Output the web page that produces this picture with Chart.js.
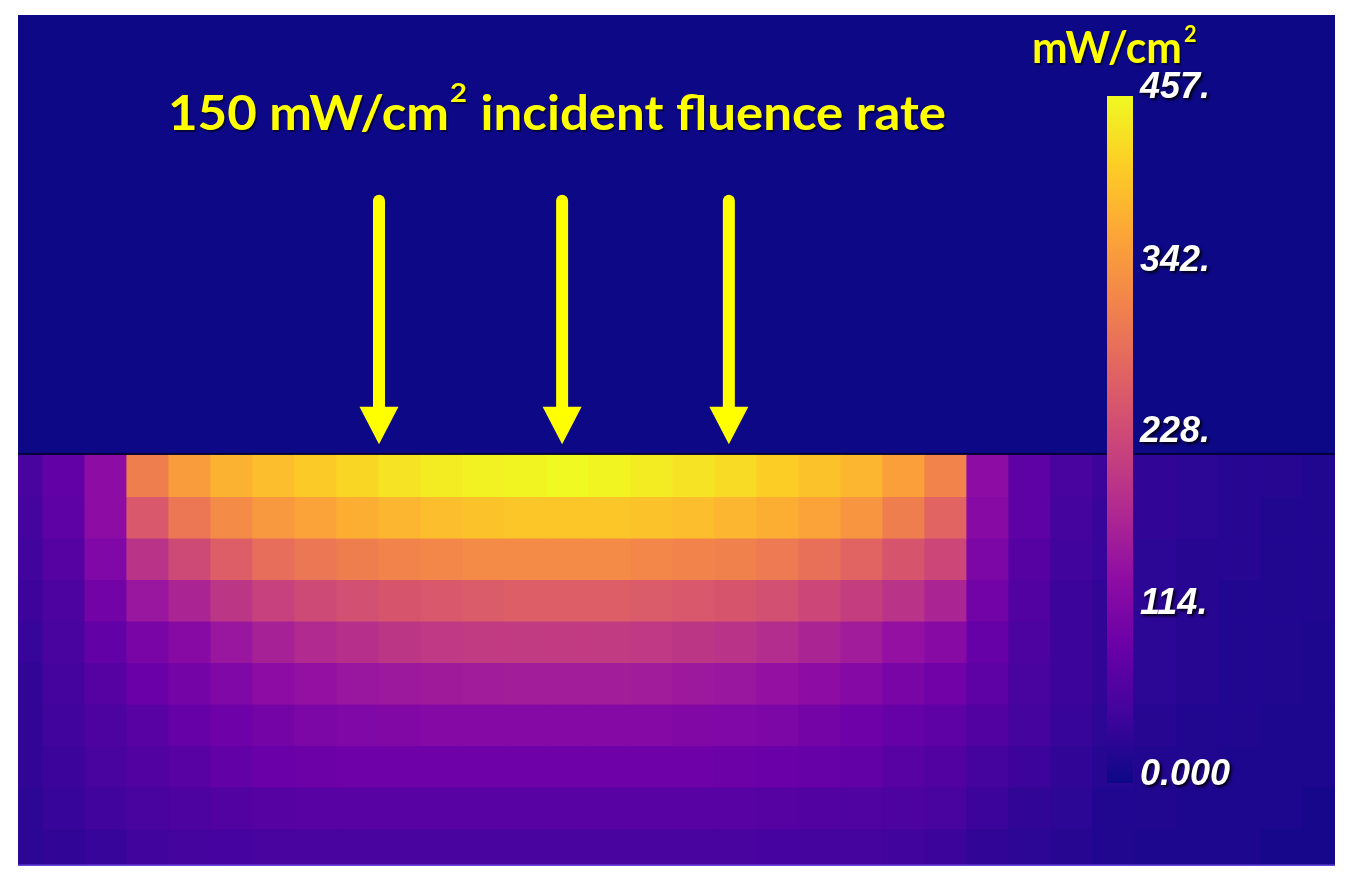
<!DOCTYPE html>
<html>
<head>
<meta charset="utf-8">
<script src="https://cdn.jsdelivr.net/npm/chart.js@4.4.1/dist/chart.umd.min.js"></script>
<style>
html,body{margin:0;padding:0;background:#ffffff;}
#wrap{position:relative;width:1348px;height:886px;overflow:hidden;}
#main{position:absolute;left:0;top:0;}
#cbar{position:absolute;left:1107px;top:0;}
</style>
</head>
<body>
<div id="wrap">
<canvas id="main" width="1348" height="886"></canvas>
<canvas id="cbar" width="232" height="886"></canvas>
</div>
<script>
// ---- data (fluence rate, mW/cm^2) ----
const columns = [0,1,2,3,4,5,6,7,8,9,10,11,12,13,14,15,16,17,18,19,20,21,22,23,24,25,26,27,28,29,30,31];
const depthRows = [0,1,2,3,4,5,6,7,8,9];
const fluenceRow0 = [55, 82, 133, 311, 352, 379, 393, 407, 420, 434, 443, 448, 452, 457, 452, 443, 434, 425, 411, 398, 384, 356, 320, 133, 78, 55, 41, 32, 27, 23, 23, 18];
const fluenceRow1 = [50, 78, 133, 256, 302, 329, 347, 361, 375, 384, 393, 398, 402, 402, 402, 398, 393, 384, 375, 361, 343, 311, 274, 128, 78, 50, 37, 32, 27, 23, 18, 18];
const fluenceRow2 = [46, 69, 119, 197, 233, 265, 288, 302, 311, 320, 324, 329, 329, 329, 329, 324, 320, 315, 306, 292, 274, 251, 229, 114, 69, 46, 37, 27, 23, 23, 18, 18];
const fluenceRow3 = [41, 59, 101, 151, 174, 201, 219, 233, 242, 251, 256, 260, 265, 265, 265, 260, 256, 251, 242, 229, 215, 197, 174, 101, 64, 41, 32, 27, 23, 18, 18, 18];
const fluenceRow4 = [37, 55, 82, 110, 128, 151, 169, 183, 192, 201, 206, 210, 210, 210, 210, 206, 201, 197, 187, 174, 160, 142, 128, 87, 59, 41, 32, 27, 23, 18, 18, 14];
const fluenceRow5 = [32, 50, 69, 91, 105, 119, 133, 142, 151, 155, 158, 160, 162, 162, 162, 160, 155, 151, 142, 133, 123, 110, 100, 78, 55, 41, 32, 27, 23, 18, 18, 14];
const fluenceRow6 = [32, 46, 59, 73, 87, 96, 105, 114, 119, 121, 123, 123, 124, 124, 124, 123, 121, 119, 114, 105, 96, 87, 78, 64, 50, 37, 27, 23, 18, 18, 14, 14];
const fluenceRow7 = [32, 41, 55, 64, 73, 82, 91, 94, 96, 96, 96, 96, 96, 96, 96, 96, 96, 94, 91, 87, 82, 73, 64, 50, 41, 32, 23, 18, 18, 14, 14, 14];
const fluenceRow8 = [27, 37, 46, 55, 59, 66, 69, 71, 73, 73, 73, 73, 73, 73, 73, 73, 73, 71, 69, 66, 62, 59, 55, 41, 32, 27, 18, 18, 14, 14, 14, 9];
const fluenceRow9 = [27, 32, 37, 46, 50, 52, 55, 55, 55, 55, 55, 55, 55, 55, 55, 55, 55, 55, 52, 50, 50, 46, 41, 32, 27, 23, 18, 14, 14, 14, 9, 9];
const fluenceMin = 0;
const fluenceMax = 457;
const colorbarTicks = [0, 114, 228, 342, 457];
const colorbarTickLabels = ['0.000', '114.', '228.', '342.', '457.'];
const titleText = ['150 mW/cm', '2', ' incident fluence rate'];
const unitText = ['mW/cm', '2'];

// ---- annotation geometry (not data) ----
const arrowColumns = [8.5, 12.86, 16.83];
const arrowTopDepth = -6.27, arrowHeadDepth = -1.16, arrowTipDepth = -0.26;

const fluenceRows = [fluenceRow0, fluenceRow1, fluenceRow2, fluenceRow3, fluenceRow4,
                     fluenceRow5, fluenceRow6, fluenceRow7, fluenceRow8, fluenceRow9];

// plasma colormap
const plasmaStops = ['#0d0887','#41049d','#6a00a8','#8f0da4','#b12a90','#cc4778',
                     '#e16462','#f2844b','#fca636','#fcce25','#f0f921'];
function hexRgb(h){ return [parseInt(h.slice(1,3),16), parseInt(h.slice(3,5),16), parseInt(h.slice(5,7),16)]; }
function plasma(t){
  t = Math.max(0, Math.min(1, t));
  const n = plasmaStops.length - 1;
  const f = t * n;
  const i = Math.min(n - 1, Math.floor(f));
  const u = f - i;
  const a = hexRgb(plasmaStops[i]), b = hexRgb(plasmaStops[i + 1]);
  return 'rgb(' + a.map((c, k) => Math.round(c + (b[k] - c) * u)).join(',') + ')';
}

const bgPlugin = {
  id: 'bluebox',
  beforeDraw(chart){
    const {ctx, chartArea: ca} = chart;
    ctx.save();
    ctx.fillStyle = '#0c0886';
    ctx.fillRect(ca.left, ca.top, ca.right - ca.left, ca.bottom - ca.top);
    ctx.restore();
  },
  afterDatasetsDraw(chart){
    const {ctx, chartArea: ca} = chart;
    const xs = chart.scales.x, ys = chart.scales.y;
    ctx.save();
    // surface line
    const y0 = ys.getPixelForValue(0);
    ctx.fillStyle = 'rgba(2,2,40,0.85)';
    ctx.fillRect(ca.left, y0 - 2, ca.right - ca.left, 2);
    // bottom edge line
    ctx.fillStyle = 'rgba(120,90,240,0.8)';
    ctx.fillRect(ca.left, ca.bottom - 1.5, ca.right - ca.left, 1.5);
    // arrows
    ctx.fillStyle = '#ffff00';
    arrowColumns.forEach(c => {
      const px = xs.getPixelForValue(c);
      const top = ys.getPixelForValue(arrowTopDepth);
      const hTop = ys.getPixelForValue(arrowHeadDepth);
      const tip = ys.getPixelForValue(arrowTipDepth);
      const r = 6;
      ctx.beginPath();
      ctx.moveTo(px - r, hTop + 1);
      ctx.lineTo(px - r, top + r);
      ctx.arc(px, top + r, r, Math.PI, 0);
      ctx.lineTo(px + r, hTop + 1);
      ctx.closePath();
      ctx.fill();
      ctx.beginPath();
      ctx.moveTo(px - 19.5, hTop);
      ctx.lineTo(px + 19.5, hTop);
      ctx.lineTo(px, tip);
      ctx.closePath();
      ctx.fill();
    });
    // title
    ctx.shadowColor = 'rgba(0,0,0,0.55)';
    ctx.shadowOffsetX = 1.5; ctx.shadowOffsetY = 1.5; ctx.shadowBlur = 1;
    ctx.fillStyle = '#ffff00';
    ctx.textBaseline = 'alphabetic';
    ctx.textAlign = 'left';
    const big = 'bold 47px Lato', sup = 'bold 27px Lato';
    ctx.font = big; const w1 = ctx.measureText(titleText[0]).width; const w3 = ctx.measureText(titleText[2]).width;
    ctx.font = sup; const w2 = ctx.measureText(titleText[1]).width + 2;
    const sx = 778 / (w1 + w2 + w3);
    ctx.save();
    ctx.translate(168, 130);
    ctx.scale(sx, 1);
    ctx.font = big; ctx.fillText(titleText[0], 0, 0);
    ctx.font = sup; ctx.fillText(titleText[1], w1 + 1, -28);
    ctx.font = big; ctx.fillText(titleText[2], w1 + w2, 0);
    ctx.restore();
    // unit label
    const ub = 'bold 43px Lato', us = 'bold 22px Lato';
    ctx.font = ub; const u1 = ctx.measureText(unitText[0]).width;
    const usx = 150 / u1;
    ctx.save();
    ctx.translate(1032, 63);
    ctx.scale(usx, 1);
    ctx.font = ub; ctx.fillText(unitText[0], 0, 0);
    ctx.font = us; ctx.fillText(unitText[1], u1 + 2, -21);
    ctx.restore();
    ctx.restore();
  }
};

const datasets = depthRows.map((r, i) => ({
  label: 'depth ' + r,
  data: columns.map((c, j) => ({ x: c, y: [r, r + 1], v: fluenceRows[i][j] })),
  backgroundColor: (ctx) => ctx.raw ? plasma((ctx.raw.v - fluenceMin) / (fluenceMax - fluenceMin)) : '#0c0886',
  borderWidth: 0,
  barPercentage: 1,
  categoryPercentage: 1,
  grouped: false,
  inflateAmount: 0.6
}));

new Chart(document.getElementById('main'), {
  type: 'bar',
  data: { datasets },
  options: {
    responsive: false,
    animation: false,
    events: [],
    layout: { padding: { left: 18, right: 13, top: 15, bottom: 20 } },
    plugins: { legend: { display: false }, tooltip: { enabled: false }, title: { display: false } },
    scales: {
      x: { type: 'linear', display: false, offset: false, min: -0.095, max: 31.262 },
      y: { type: 'linear', display: false, reverse: true, min: -10.602, max: 9.904 }
    }
  },
  plugins: [bgPlugin]
});

// ---- colour bar ----
const shadowPlugin = {
  id: 'labelShadow',
  beforeDraw(chart){
    const ctx = chart.ctx;
    ctx.shadowColor = 'rgba(0,0,0,0.9)';
    ctx.shadowOffsetX = 2; ctx.shadowOffsetY = 2; ctx.shadowBlur = 3;
  },
  beforeDatasetsDraw(chart){
    const ctx = chart.ctx;
    ctx.shadowColor = 'rgba(0,0,0,0.6)';
    ctx.shadowOffsetX = 1.5; ctx.shadowOffsetY = 0; ctx.shadowBlur = 2;
  },
  afterDatasetsDraw(chart){
    const ctx = chart.ctx;
    ctx.shadowColor = 'rgba(0,0,0,0)';
    ctx.shadowOffsetX = 0; ctx.shadowOffsetY = 0; ctx.shadowBlur = 0;
  }
};

new Chart(document.getElementById('cbar'), {
  type: 'bar',
  data: {
    labels: ['mW/cm²'],
    datasets: [{
      data: [[fluenceMin, fluenceMax]],
      backgroundColor: (ctx) => {
        const ca = ctx.chart.chartArea;
        if (!ca) return plasmaStops[5];
        const g = ctx.chart.ctx.createLinearGradient(0, ca.bottom, 0, ca.top);
        plasmaStops.forEach((c, i) => g.addColorStop(i / (plasmaStops.length - 1), c));
        return g;
      },
      borderWidth: 0,
      barPercentage: 1,
      categoryPercentage: 1,
      inflateAmount: 0
    }]
  },
  options: {
    responsive: false,
    animation: false,
    events: [],
    layout: { padding: { left: 0, right: 0, top: 96, bottom: 103 } },
    plugins: { legend: { display: false }, tooltip: { enabled: false } },
    scales: {
      x: { display: false },
      y: {
        position: 'right',
        min: fluenceMin,
        max: fluenceMax,
        grid: { display: false, drawTicks: false },
        border: { display: false },
        afterFit: (s) => { s.width = 206; },
        afterBuildTicks: (s) => { s.ticks = colorbarTicks.map(v => ({ value: v })); },
        ticks: {
          autoSkip: false,
          padding: 7,
          labelOffset: -8,
          color: '#ffffff',
          font: { family: 'Liberation Sans', style: 'italic', weight: 'bold', size: 36 },
          callback: (v, i) => colorbarTickLabels[i]
        }
      }
    }
  },
  plugins: [shadowPlugin]
});
</script>
</body>
</html>
